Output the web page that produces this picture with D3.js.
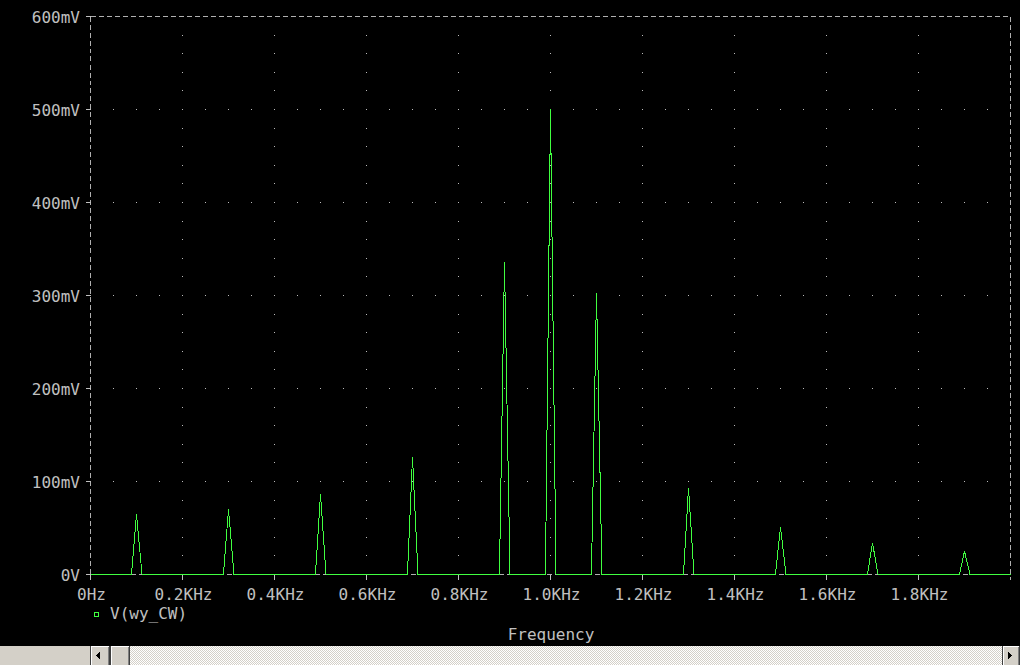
<!DOCTYPE html>
<html>
<head>
<meta charset="utf-8">
<script src="https://cdn.jsdelivr.net/npm/d3@7"></script>
<style>
  html, body { margin: 0; padding: 0; background: #000; overflow: hidden; }
  svg { display: block; }
  text { font-family: "DejaVu Sans Mono", monospace; font-size: 16px; fill: #c0c0c0; }
</style>
</head>
<body>
<svg id="chart" width="1020" height="665"></svg>
<script>
// ---- data ----
const xTickValues = [0, 0.2, 0.4, 0.6, 0.8, 1.0, 1.2, 1.4, 1.6, 1.8];
const xTickLabels = ["0Hz", "0.2KHz", "0.4KHz", "0.6KHz", "0.8KHz", "1.0KHz", "1.2KHz", "1.4KHz", "1.6KHz", "1.8KHz"];
const yTickValues = [0, 100, 200, 300, 400, 500, 600];
const yTickLabels = ["0V", "100mV", "200mV", "300mV", "400mV", "500mV", "600mV"];
// trace: frequency (KHz) and amplitude (mV)
const traceFreq = [0,
  0.089, 0.100, 0.112,
  0.289, 0.300, 0.312,
  0.489, 0.500, 0.512,
  0.689, 0.700, 0.712,
  0.889, 0.900, 0.912,
  0.989, 1.000, 1.012,
  1.089, 1.100, 1.112,
  1.289, 1.300, 1.312,
  1.489, 1.500, 1.512,
  1.689, 1.700, 1.712,
  1.889, 1.900, 1.912,
  2.0];
const traceVolt = [0,
  0, 65, 0,
  0, 70, 0,
  0, 86, 0,
  0, 126, 0,
  0, 336, 0,
  0, 500, 0,
  0, 303, 0,
  0, 93, 0,
  0, 51, 0,
  0, 34, 0,
  0, 25, 0,
  0];
const seriesName = "V(wy_CW)";
const xTitle = "Frequency";

// ---- chart ----
const svg = d3.select("#chart");
const x = d3.scaleLinear().domain([0, 2]).range([90.5, 1010.5]);
const y = d3.scaleLinear().domain([0, 600]).range([574.5, 16.5]);
const gray = "#c0c0c0";
const green = "#40ff40";

svg.append("rect").attr("width", 1020).attr("height", 665).attr("fill", "#000");

// grid dots
const gDots = svg.append("g").attr("fill", "#bbbbbb");
const minorY = d3.range(20, 600, 20);
xTickValues.filter(v => v > 0).forEach(xv => {
  minorY.forEach(yv => {
    gDots.append("rect").attr("x", Math.floor(x(xv))).attr("y", Math.floor(y(yv))).attr("width", 1).attr("height", 1);
  });
});
const minorX = d3.range(1, 40).map(i => i * 0.05);
yTickValues.filter(v => v > 0 && v < 600).forEach(yv => {
  minorX.forEach(xv => {
    gDots.append("rect").attr("x", Math.floor(x(xv))).attr("y", Math.floor(y(yv))).attr("width", 1).attr("height", 1);
  });
});

// frame (dashed)
const frame = svg.append("g").attr("stroke", "#b0b0b0").attr("stroke-width", 1)
  .attr("stroke-dasharray", "5,3").attr("shape-rendering", "crispEdges");
frame.append("line").attr("x1", x(0)).attr("x2", x(2)).attr("y1", y(600)).attr("y2", y(600));
frame.append("line").attr("x1", x(2)).attr("x2", x(2)).attr("y1", y(600)).attr("y2", y(0) + 5);
frame.append("line").attr("x1", x(0)).attr("x2", x(0)).attr("y1", y(600)).attr("y2", y(0) + 5);
frame.append("line").attr("x1", x(0)).attr("x2", x(2)).attr("y1", y(0)).attr("y2", y(0));

// y axis ticks & labels
const gy = svg.append("g");
yTickValues.forEach((v, i) => {
  gy.append("line").attr("x1", x(0) - 5).attr("x2", x(0)).attr("y1", y(v)).attr("y2", y(v))
    .attr("stroke", gray).attr("shape-rendering", "crispEdges");
  gy.append("text").attr("x", 80).attr("y", y(v) + 6).attr("text-anchor", "end").text(yTickLabels[i]);
});

// x axis ticks & labels
const gx = svg.append("g");
xTickValues.forEach((v, i) => {
  gx.append("line").attr("x1", x(v)).attr("x2", x(v)).attr("y1", y(0)).attr("y2", y(0) + 5)
    .attr("stroke", gray).attr("shape-rendering", "crispEdges");
  gx.append("text").attr("x", x(v) + 1).attr("y", 600).attr("text-anchor", "middle").text(xTickLabels[i]);
});

// trace
const pts = traceFreq.map((f, i) => [f, traceVolt[i]]);
const line = d3.line().x(d => x(d[0])).y(d => y(d[1]));
svg.append("path").datum(pts).attr("d", line)
  .attr("fill", "none").attr("stroke", green).attr("stroke-width", 1)
  .attr("shape-rendering", "crispEdges");

// legend
svg.append("rect").attr("x", 94.5).attr("y", 612.5).attr("width", 4).attr("height", 4)
  .attr("fill", "none").attr("stroke", green).attr("shape-rendering", "crispEdges");
svg.append("text").attr("x", 110).attr("y", 619).text(seriesName);

// x title
svg.append("text").attr("x", 551).attr("y", 640).attr("text-anchor", "middle").text(xTitle);

// scrollbar
const defs = svg.append("defs");
const pat = defs.append("pattern").attr("id", "checker").attr("width", 2).attr("height", 2)
  .attr("patternUnits", "userSpaceOnUse");
pat.append("rect").attr("width", 2).attr("height", 2).attr("fill", "#ffffff");
pat.append("rect").attr("x", 0).attr("y", 0).attr("width", 1).attr("height", 1).attr("fill", "#d4d0c8");
pat.append("rect").attr("x", 1).attr("y", 1).attr("width", 1).attr("height", 1).attr("fill", "#d4d0c8");

const sb = svg.append("g").attr("shape-rendering", "crispEdges");
sb.append("rect").attr("x", 0).attr("y", 646).attr("width", 90).attr("height", 19).attr("fill", "#d4d0c8");
sb.append("rect").attr("x", 130).attr("y", 646).attr("width", 872).attr("height", 19).attr("fill", "url(#checker)");

function button(bx, w) {
  const g = sb.append("g");
  g.append("rect").attr("x", bx).attr("y", 646).attr("width", w).attr("height", 19).attr("fill", "#d4d0c8");
  g.append("line").attr("x1", bx + 0.5).attr("x2", bx + 0.5).attr("y1", 646).attr("y2", 665).attr("stroke", "#404040");
  g.append("line").attr("x1", bx + 1.5).attr("x2", bx + 1.5).attr("y1", 647).attr("y2", 665).attr("stroke", "#ffffff");
  g.append("line").attr("x1", bx + 1).attr("x2", bx + w - 1).attr("y1", 646.5).attr("y2", 646.5).attr("stroke", "#ffffff");
  g.append("line").attr("x1", bx + w - 0.5).attr("x2", bx + w - 0.5).attr("y1", 646).attr("y2", 665).attr("stroke", "#404040");
  g.append("line").attr("x1", bx + w - 1.5).attr("x2", bx + w - 1.5).attr("y1", 647).attr("y2", 665).attr("stroke", "#808080");
  return g;
}
const lb = button(90, 20);
lb.append("path").attr("d", "M96,655.5 L100,651.5 L100,659.5 Z").attr("fill", "#000");
button(110, 20);
const rb = button(1002, 18);
rb.append("path").attr("d", "M1012,655.5 L1008,651.5 L1008,659.5 Z").attr("fill", "#000");
</script>
</body>
</html>
